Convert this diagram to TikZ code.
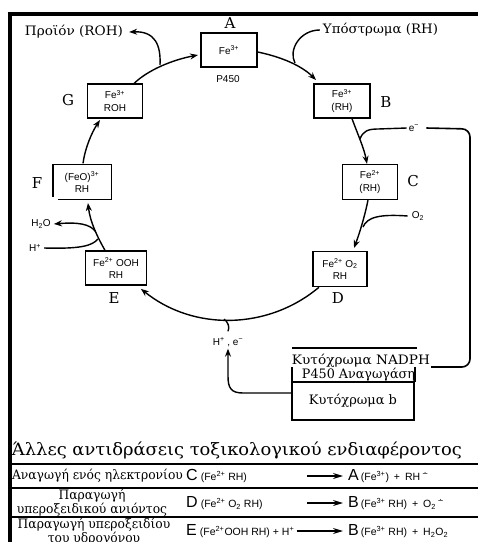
\documentclass[tikz,border=0pt]{standalone}
\usepackage{fontspec}
\usepackage{graphicx}
\usetikzlibrary{arrows.meta,calc}
\setmainfont{DejaVu Serif}
\newfontfamily\chem{Liberation Sans}
\newfontfamily\symf{DejaVu Sans}
\newcommand{\wx}[2]{\resizebox{#1}{\height}{#2}}
\newcommand{\radm}{\textsuperscript{\symf ∸}}
\newlength{\rowlen}
\newcommand{\tabfnt}{\fontsize{13}{12}\selectfont}
\begin{document}
\settowidth{\rowlen}{\normalfont\tabfnt Αναγωγή ενός ηλεκτρονίου}%
\pgfmathsetmacro{\tsx}{171/\rowlen}%
\begin{tikzpicture}[x=1pt,y=1pt,
  box/.style={draw, line width=1.3pt, inner sep=0pt, minimum height=34pt, align=center, font=\chem\fontsize{10}{12.5}\selectfont},
  lbl/.style={inner sep=0pt, font=\fontsize{15}{15}\selectfont},
  sm/.style={inner sep=0pt, font=\chem\fontsize{10}{10}\selectfont},
  arr/.style={line width=1.4pt, -{Stealth[length=8pt,width=6pt]}},
  ln/.style={line width=1.4pt},
  gk/.style={inner sep=0pt, font=\fontsize{13}{13}\selectfont},
  tb/.style={inner sep=0pt, align=center, font=\tabfnt},
  eq/.style={inner sep=0pt, anchor=west, font=\chem\fontsize{10.5}{10.5}\selectfont},
  tarr/.style={line width=1.2pt, -{Stealth[length=10pt,width=6pt]}}
]
\useasboundingbox (0,0) rectangle (478,-542);
\clip (0,0) rectangle (478,-542);
\fill[white] (0,0) rectangle (478,-542);
% frame
\draw[line width=4pt] (7.5,-14) -- (478,-14);
\draw[line width=4pt] (9.5,-12) -- (9.5,-542);

\coordinate (O) at (229,-180);

% boxes
\node[box, minimum width=56pt] (A) at (229,-50) {Fe\textsuperscript{3+}};
\node[box, minimum width=56pt] (B) at (342,-101) {Fe\textsuperscript{3+}\\(RH)};
\node[box, minimum width=55pt, minimum height=35pt] (C) at (370,-182) {Fe\textsuperscript{2+}\\(RH)};
\node[box, minimum width=54pt, minimum height=35pt] (D) at (340,-269) {Fe\textsuperscript{2+} O\textsubscript{2}\\RH};
\node[box, minimum width=61pt] (E) at (116,-268) {Fe\textsuperscript{2+} OOH\\RH};
\node[box, draw=none, minimum width=57pt] (F) at (82,-182) {(FeO)\textsuperscript{3+}\\RH};
\draw[line width=1.3pt] ([yshift=3pt]F.south west) -- (F.north west) -- (F.north east) -- (F.south east) -- ([xshift=5pt]F.south west);
\node[box, minimum width=55pt] (G) at (115,-101) {Fe\textsuperscript{3+}\\ROH};

% letters
\node[lbl] (lA) at (230,-23) {A};
\node[sm] (p450) at (228,-79) {P450};
\node[lbl] (lB) at (386,-102) {B};
\node[lbl] (lC) at (413,-181) {C};
\node[lbl] (lD) at (338,-298) {D};
\node[lbl] (lE) at (114,-298) {E};
\node[lbl] (lF) at (37,-183) {F};
\node[lbl] (lG) at (68,-100) {G};

% side texts
\node[gk] (prod) at (74,-32) {\wx{98pt}{Προϊόν (ROH)}};
\node[gk] (subs) at (380.5,-30) {\wx{115pt}{Υπόστρωμα (RH)}};
\node[sm] (el) at (414,-128) {e\textsuperscript{−}};
\node[sm] (o2) at (418,-216) {O\textsubscript{2}};
\node[sm] (h2o) at (41,-224) {H\textsubscript{2}O};
\node[sm] (hp) at (35,-248) {H\textsuperscript{+}};
\node[sm] (hpe) at (228,-342) {H\textsuperscript{+} , e\textsuperscript{−}};

% cycle
\draw[arr] ([xshift=-9pt]G.north east) .. controls (148,-70) and (172,-60) .. (198,-55);
\coordinate (jGA) at (160,-65);
\draw[arr] (jGA) .. controls (161,-45) and (155,-31) .. ([xshift=6pt]prod.east);

\draw[arr] ([yshift=-2pt]A.east) .. controls (282,-57) and (302,-66) .. (316,-80);
\draw[ln] ([xshift=-3pt]subs.west) .. controls (300,-30) and (288,-50) .. (295,-63);

\draw[arr] ([xshift=10pt]B.south) .. controls (358,-135) and (364,-148) .. ([xshift=-3pt]C.north);
\coordinate (jBC) at (360,-139);
\draw[ln] (jBC) .. controls (363,-131) and (368,-129) .. (378,-129) -- ([xshift=-2pt]el.west);
\draw[line width=1.6pt, rounded corners=8pt] ([xshift=7pt]el.east) -- (470,-129) -- (470,-367) -- (431,-367);

\draw[arr] ([xshift=-2pt]C.south) .. controls (365,-215) and (360,-232) .. (354,-248);
\draw[ln] ([xshift=-4pt]o2.west) .. controls (380,-214) and (367,-217) .. (363,-227);

\draw[arr] ($(O)+(-50:140)$) arc[start angle=-50, end angle=-129, radius=140];
\draw[ln] ([yshift=6pt]hpe.north) .. controls (230,-327) and (228,-322) .. (224,-319);

\draw[arr] ([xshift=-11pt]E.north) .. controls (98,-238) and (90,-222) .. (88,-203);
\coordinate (jEF) at (95.5,-231.5);
\draw[arr] (jEF) .. controls (90,-224) and (78,-222) .. ([xshift=3pt]h2o.east);
\draw[ln] ([xshift=3pt]hp.east) .. controls (80,-249) and (92,-246) .. (98,-239);

\draw[arr] ([xshift=1pt,yshift=1pt]F.north) .. controls (85,-148) and (92,-132) .. (100,-120);

% NADPH reductase / cytochrome b
\node[gk] (nad) at (361,-361) {\wx{138pt}{Κυτόχρωμα NADPH}};
\node[gk] (red) at (358.5,-375) {\wx{113pt}{P450 Αναγωγάση}};
\draw[line width=1.2pt] (292,-348) -- (417,-348);
\draw[line width=1.2pt] (292,-367) -- (292,-382);
\draw[line width=1.2pt] (415,-367) -- (415,-382);
\node[draw, line width=1.3pt, minimum width=122pt, minimum height=38pt, inner sep=0pt] (cb) at (353,-401) {};
\node[gk] (cbt) at (cb) {\wx{88pt}{Κυτόχρωμα b}};
\draw[arr] ([yshift=8pt]cb.west) -- (243,-393) .. controls (231,-393) and (228,-388) .. (228,-376) -- ([yshift=-2pt]hpe.south);

% table
\node[inner sep=0pt, font=\fontsize{17}{17}\selectfont] (ttl) at (237,-450) {\wx{450pt}{Άλλες αντιδράσεις τοξικολογικού ενδιαφέροντος}};
\draw[line width=1.8pt] (11,-464) -- (478,-464);
\draw[line width=1.5pt] (11,-488) -- (478,-488);
\draw[line width=1.5pt] (11,-517) -- (478,-517);

\node[tb] (r1) at (97.5,-476) {\scalebox{\tsx}[1]{Αναγωγή ενός ηλεκτρονίου}};
\node[tb] (r2) at (92,-503) {\scalebox{\tsx}[1]{Παραγωγή}\\\scalebox{\tsx}[1]{υπεροξειδικού ανιόντος}};
\node[tb] (r3) at (94,-532) {\scalebox{\tsx}[1]{Παραγωγή υπεροξειδίου}\\\scalebox{\tsx}[1]{του υδρογόνου}};

\node[eq] (c1) at (186,-476) {{\fontsize{16}{16}\selectfont C}\hspace{3pt}(Fe\textsuperscript{2+} RH)};
\node[eq] (c2) at (186,-503) {{\fontsize{16}{16}\selectfont D}\hspace{3pt}(Fe\textsuperscript{2+} O\textsubscript{2} RH)};
\node[eq] (c3) at (186,-531) {{\fontsize{16}{16}\selectfont E}\hspace{3pt}(Fe\textsuperscript{2+}OOH RH) + H\textsuperscript{+}};

\node[eq] (d1) at (348,-476) {{\fontsize{16}{16}\selectfont A}\hspace{2pt}(Fe\textsuperscript{3+})\hspace{5pt}+\hspace{5pt}RH\,\radm};
\node[eq] (d2) at (348,-503) {{\fontsize{16}{16}\selectfont B}\hspace{2pt}(Fe\textsuperscript{3+} RH)\hspace{5pt}+\hspace{5pt}O\textsubscript{2}\,\radm};
\node[eq] (d3) at (348,-531) {{\fontsize{16}{16}\selectfont B}\hspace{2pt}(Fe\textsuperscript{3+} RH)\hspace{5pt}+\hspace{5pt}H\textsubscript{2}O\textsubscript{2}};

\draw[tarr] (307,-476) -- ([xshift=-5pt]d1.west);
\draw[tarr] (307,-503) -- ([xshift=-5pt]d2.west);
\draw[tarr] ([xshift=2pt]c3.east) -- ([xshift=-5pt]d3.west);
\end{tikzpicture}
\end{document}
